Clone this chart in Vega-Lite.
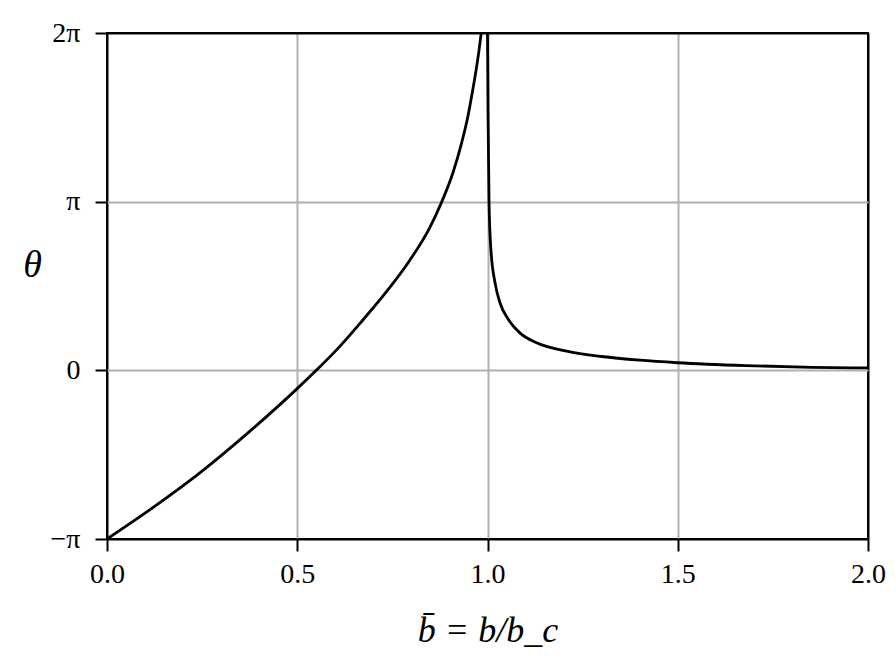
{
  "$schema": "https://vega.github.io/schema/vega-lite/v6.json",
  "width": 761,
  "height": 506,
  "autosize": {"type": "none"},
  "padding": {"left": 107, "top": 33, "right": 28, "bottom": 120},
  "background": "white",
  "config": {
    "view": {"stroke": "black", "strokeWidth": 2},
    "axis": {
      "labelFont": "Liberation Serif",
      "labelFontSize": 28,
      "labelColor": "black",
      "titleFont": "Liberation Serif",
      "titleColor": "black",
      "titleFontWeight": "normal",
      "tickColor": "black",
      "tickSize": 12,
      "tickWidth": 2,
      "domain": false,
      "gridWidth": 2
    }
  },
  "data": {
    "values": [
      {"branch": "left", "b": 0.0, "theta": -1.0},
      {"branch": "left", "b": 0.113, "theta": -0.826},
      {"branch": "left", "b": 0.244, "theta": -0.608},
      {"branch": "left", "b": 0.375, "theta": -0.362},
      {"branch": "left", "b": 0.502, "theta": -0.104},
      {"branch": "left", "b": 0.55, "theta": 0.0},
      {"branch": "left", "b": 0.612, "theta": 0.142},
      {"branch": "left", "b": 0.673, "theta": 0.3},
      {"branch": "left", "b": 0.734, "theta": 0.465},
      {"branch": "left", "b": 0.795, "theta": 0.65},
      {"branch": "left", "b": 0.848, "theta": 0.845},
      {"branch": "left", "b": 0.878, "theta": 0.99},
      {"branch": "left", "b": 0.909, "theta": 1.17},
      {"branch": "left", "b": 0.931, "theta": 1.34},
      {"branch": "left", "b": 0.948, "theta": 1.5},
      {"branch": "left", "b": 0.961, "theta": 1.66},
      {"branch": "left", "b": 0.97, "theta": 1.78},
      {"branch": "left", "b": 0.977, "theta": 1.885},
      {"branch": "left", "b": 0.9835, "theta": 2.0},
      {"branch": "right", "b": 1.0, "theta": 2.0},
      {"branch": "right", "b": 1.0015, "theta": 1.5},
      {"branch": "right", "b": 1.004, "theta": 1.0},
      {"branch": "right", "b": 1.009, "theta": 0.714},
      {"branch": "right", "b": 1.02, "theta": 0.517},
      {"branch": "right", "b": 1.033, "theta": 0.399},
      {"branch": "right", "b": 1.055, "theta": 0.301},
      {"branch": "right", "b": 1.085, "theta": 0.222},
      {"branch": "right", "b": 1.129, "theta": 0.163},
      {"branch": "right", "b": 1.208, "theta": 0.114},
      {"branch": "right", "b": 1.3, "theta": 0.082},
      {"branch": "right", "b": 1.4, "theta": 0.06},
      {"branch": "right", "b": 1.5, "theta": 0.045},
      {"branch": "right", "b": 1.679, "theta": 0.028},
      {"branch": "right", "b": 1.854, "theta": 0.018},
      {"branch": "right", "b": 2.0, "theta": 0.014}
    ]
  },
  "mark": {"type": "line", "color": "black", "strokeWidth": 2.8, "interpolate": "monotone", "clip": true},
  "encoding": {
    "x": {
      "field": "b",
      "type": "quantitative",
      "scale": {"domain": [0, 2], "nice": false, "zero": false},
      "axis": {
        "values": [0, 0.5, 1, 1.5, 2],
        "format": ".1f",
        "labelPadding": 9,
        "labelFlush": false,
        "gridColor": {"condition": {"test": "datum.value == 0 || datum.value == 2", "value": "black"}, "value": "#b0b0b0"},
        "title": "b̄ = b/b_c",
        "titleFontSize": 36,
        "titleFontStyle": "italic",
        "titleX": 380.5,
        "titleY": 102,
        "titleAlign": "center",
        "titleBaseline": "alphabetic"
      }
    },
    "y": {
      "field": "theta",
      "type": "quantitative",
      "scale": {"domain": [-1, 2], "nice": false, "zero": false},
      "axis": {
        "values": [-1, 0, 1, 2],
        "labelExpr": "datum.value == -1 ? '−π' : datum.value == 0 ? '0' : datum.value == 1 ? 'π' : '2π'",
        "labelPadding": 15,
        "labelFlush": false,
        "gridColor": {"condition": {"test": "datum.value == -1 || datum.value == 2", "value": "black"}, "value": "#b0b0b0"},
        "title": "θ",
        "titleFontSize": 38,
        "titleFontStyle": "italic",
        "titleAngle": 0,
        "titleX": -75,
        "titleY": 232,
        "titleAlign": "center",
        "titleBaseline": "middle"
      }
    },
    "detail": {"field": "branch"}
  }
}
